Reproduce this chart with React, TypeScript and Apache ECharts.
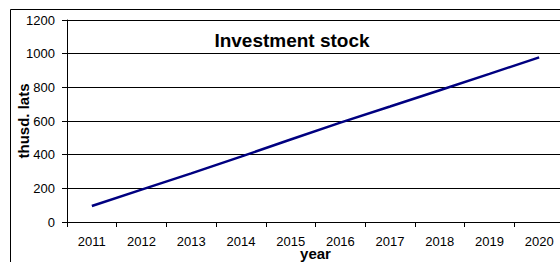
import React, { useEffect, useRef } from "react";
import * as echarts from "echarts";

const years = ["2011", "2012", "2013", "2014", "2015", "2016", "2017", "2018", "2019", "2020"];
const investmentStock = [95, 192, 289, 388, 490, 590, 686, 783, 880, 978];
const titleText = "Investment stock";
const yName = "thusd. lats";
const xName = "year";

const FONT = "'Liberation Sans', Arial, sans-serif";

export default function App() {
  const ref = useRef<HTMLDivElement>(null);
  useEffect(() => {
    if (!ref.current) return;
    const chart = echarts.init(ref.current, undefined, { renderer: "svg" });
    chart.setOption({
      animation: false,
      backgroundColor: "#ffffff",
      textStyle: { fontFamily: FONT },
      grid: { left: 67, top: 20, right: -4, bottom: 40, containLabel: false, outerBoundsMode: "none" },
      graphic: [
        {
          type: "rect",
          shape: { x: 10.5, y: 9.5, width: 600, height: 300 },
          style: { fill: "none", stroke: "#000", lineWidth: 1 },
          z: 0,
        },
        {
          type: "text",
          x: 292,
          y: 40,
          style: {
            text: titleText,
            fontFamily: FONT,
            fontSize: 19,
            fontWeight: "bold",
            fill: "#000",
            align: "center",
            verticalAlign: "middle",
          },
          z: 10,
        },
      ],
      xAxis: {
        type: "category",
        data: years,
        boundaryGap: true,
        name: xName,
        nameLocation: "middle",
        nameGap: 24,
        nameMoveOverlap: false,
        nameTextStyle: { fontFamily: FONT, fontSize: 15, fontWeight: "bold", color: "#000" },
        axisLine: { lineStyle: { color: "#000", width: 1 } },
        axisTick: { show: true, length: 5, lineStyle: { color: "#000" }, alignWithLabel: false },
        axisLabel: { fontFamily: FONT, fontSize: 13, color: "#000", margin: 13, interval: 0 },
        splitLine: { show: false },
      },
      yAxis: {
        type: "value",
        min: 0,
        max: 1200,
        interval: 200,
        name: yName,
        nameLocation: "middle",
        nameGap: 36,
        nameRotate: 90,
        nameMoveOverlap: false,
        nameTextStyle: { fontFamily: FONT, fontSize: 15, fontWeight: "bold", color: "#000" },
        axisLine: { show: true, lineStyle: { color: "#000", width: 1 } },
        axisTick: { show: true, length: 5, lineStyle: { color: "#000" } },
        axisLabel: {
          fontFamily: FONT,
          fontSize: 13,
          color: "#000",
          margin: 12,
          formatter: (v: number) => String(v),
        },
        splitLine: { show: true, lineStyle: { color: "#000", width: 1 } },
      },
      series: [
        {
          type: "line",
          data: investmentStock,
          symbol: "none",
          lineStyle: { color: "#000080", width: 2.5 },
          itemStyle: { color: "#000080" },
        },
      ],
    });
    return () => chart.dispose();
  }, []);
  return (
    <div
      ref={ref}
      style={{ position: "fixed", left: 0, top: 0, width: 560, height: 262 }}
    />
  );
}
